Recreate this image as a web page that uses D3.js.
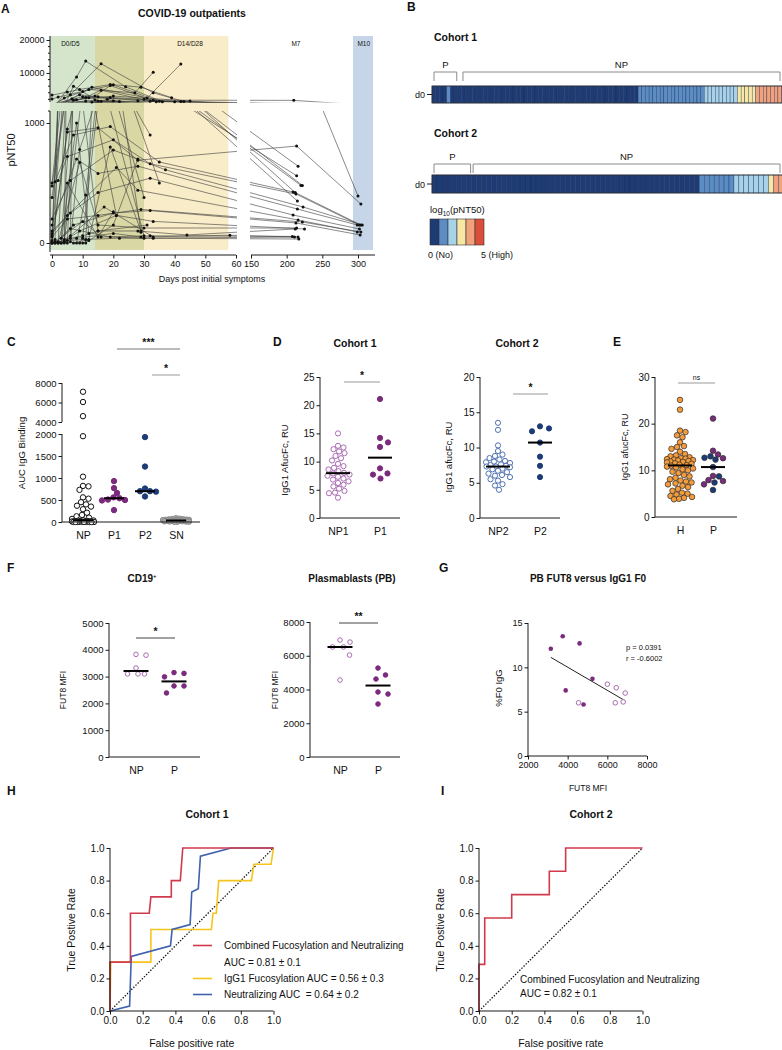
<!DOCTYPE html>
<html><head><meta charset="utf-8">
<script src="https://cdn.jsdelivr.net/npm/d3@7"></script>
<style>
body{margin:0;background:#fff}
svg text{font-family:"Liberation Sans",Arial,Helvetica,sans-serif}
</style></head><body>
<svg id="fig" width="782" height="1050"></svg>
<script>
// ======================= DATA =======================
// Panel A: pNT50 trajectories, each subject = [[day, pNT50], ...]
const aSubjects = [
  [[1,30],[8,8800],[11,13600],[24,5800],[36,1300]],
  [[0,10],[6,3400],[16,12800],[33,4000],[43,1350]],
  [[0,3300],[5,4200],[9,5000],[19,6500],[29,5700],[39,2500]],
  [[0,2100],[2,2700],[10,4400],[20,6400],[35,1400],[222,480]],
  [[0,60],[4,2400],[12,5000],[27,4000],[33,10200]],
  [[0,20],[6.5,2200],[13,5700],[31,2400],[42,12700]],
  [[0,500],[10,2800],[19,2600],[30,2000],[42,1350],[216,640]],
  [[0,475],[12,2500],[33,1750],[210,1700],[300,392]],
  [[0,380],[14,3000],[19,6200],[34,1300],[214,560]],
  [[2,0],[9,3400],[15,2800],[28,1600],[212,420],[304,150]],
  [[3,40],[11,2600],[16,4800],[32,1450],[215,350]],
  [[5,0],[8,1900],[20,3000],[45,1500]],
  [[4,10],[7,6000],[15,1500],[40,1250],[220,480]],
  [[0,0],[5,925],[15,960],[28,690],[214,808],[304,325]],
  [[1,510],[7,900],[19,970],[35,675],[209,425]],
  [[2,520],[5,720],[20,860],[32,660],[213,408],[302,150]],
  [[0,200],[6,520],[20,775],[37,610],[223,300],[306,150]],
  [[0,150],[8,700],[15,580],[28,640],[215,283],[299,150]],
  [[0,100],[6,250],[15,420],[32,540],[209,233],[302,117]],
  [[0,80],[5,230],[21,630],[28,440],[216,192],[299,92]],
  [[0,50],[5,200],[15,230],[29,280],[222,175],[304,92]],
  [[1,0],[7,150],[20,250],[32,270],[213,167],[303,67]],
  [[2,10],[9,670],[15,150],[30,125],[214,125]],
  [[3,0],[9,100],[21,230],[33,180],[225,117]],
  [[4,30],[10,60],[15,100],[28,100],[44,67],[212,117]],
  [[0,0],[8,40],[20,80],[29,50],[58,65],[211,50]],
  [[2,5],[6,120],[19,50],[30,40],[216,50]],
  [[1,10],[10,180],[16,50],[32,60],[208,55]],
  [[5,20],[11,30],[22,40],[33,40],[217,33]],
  [[0,0],[5,950],[14,1800],[30,380]],
  [[6,10],[9,780],[20,1600],[35,500]],
  [[3,0],[8,1000],[12,80]],
  [[7,0],[12,30],[19,800],[29,100]],
  [[9,0],[10,40],[16,1400],[30,60]],
  [[1,0],[4,10],[11,1500],[21,230]],
  [[6,40],[7,1800],[15,100],[31,150]],
  [[8,0],[11,400],[18,2000],[29,90]],
  [[2,0],[6,60],[17,300],[33,50]],
  [[10,0],[12,20],[20,150],[28,700]],
  [[4,0],[5,500],[15,50],[20,260]],
  [[11,0],[13,1200],[22,1350],[32,900]]
];
const aPhases = [
  {name:"D0/D5", from:-0.7, to:14, labelDay:6},
  {name:"", from:14, to:30, labelDay:22},
  {name:"D14/D28", from:30, to:57.5, labelDay:45},
  {name:"M10", from:293, to:321, labelDay:308}
];
const aExtraLabels = [{name:"M7", labelDay:213}];
const aXTicksLeft = [0,10,20,30,40,50,60];
const aXTicksRight = [150,200,250,300];
const aYTicksUpper = [10000,20000];
const aYTicksLower = [0,1000];

// Panel B: heat map bins of log10(pNT50) at d0 (0 = none ... 5 = high)
const bCohort1Bins = [
  0,0,0,0,1,0,0,0,0,0, 0,0,0,0,0,0,0,0,0,0, 0,0,0,0,0,0,0,0,0,0,
  0,0,0,0,0,0,0,0,0,0, 0,0,0,0,0,0,0,0,0,0, 0,0,0,0,0,0,1,1,1,1,
  1,1,1,1,1,1,1,1,1,1, 1,1,1,1,2,2,2,2,2,2, 2,2,2,3,3,3,3,3,4,4,
  4,4,4,4,4,5];
const bCohort2Bins = [
  0,0,0,0,0,0,0,0,0,0, 0,0,0,0,0,0,0,0,0,0, 0,0,0,0,0,0,0,0,0,0,
  0,0,0,0,0,0,0,0,0,0, 0,0,0,0,0,0,0,0,0,0, 0,0,0,0,1,1,1,1,1,1,
  1,2,2,2,2,2,2,2,3,4,4];
const bCohort1Groups = [{name:"P", from:0, to:7}, {name:"NP", from:8, to:96}];
const bCohort2Groups = [{name:"P", from:0, to:8}, {name:"NP", from:8, to:71}];
const bLegendLevels = [0,1,2,3,4,5];

// Panel C: AUC IgG binding
const cCats = ["NP","P1","P2","SN"];
const cNP = [7100,6050,4600,1950,1030,820,810,730,560,530,450,400,370,350,290,210,160,130,100,70,
             40,35,30,25,20,18,15,12,10,8,6,5,4,3,2,2,1,1,0,0,0,0];
const cP1 = [930,770,660,560,540,510,500,490,270];
const cP2 = [1930,1260,760,700,700,690,580];
const cSN = [85,75,70,65,60,55,50,48,45,42,40,38,35,33,30,28,25,22,20,18,15,12,10,8,5,3];
const cYTicksLower = [0,500,1000,1500,2000];
const cYTicksUpper = [4000,6000,8000];

// Panel D
const dCats1 = ["NP1","P1"];
const dNP1 = [15,12.8,12.5,12.2,11.8,11.5,11,10.6,10.2,9.6,9.2,8.9,8.6,8.3,8.0,7.9,7.7,7.5,7.3,7.0,6.8,6.5,6.2,5.9,5.6,5.2,4.8,4.5,4.4,3.6];
const dP1 = [21.1,14.2,13.4,12.6,8.8,7.9,7.7,7.0];
const dCats2 = ["NP2","P2"];
const dNP2 = [13.5,12.5,10.3,9.5,9.0,8.8,8.5,8.3,8.1,8.0,7.9,7.8,7.6,7.5,7.4,7.3,7.3,7.2,7.0,6.9,6.7,6.5,6.3,6.1,6.0,5.8,5.5,5.3,4.8,4.6,4.0];
const dP2 = [13.0,12.7,12.3,10.7,8.7,7.4,5.8];

// Panel E
const eCats = ["H","P"];
const eH = [25.1,23.0,18.5,18.2,17.5,17.1,16.0,15.2,15.0,14.6,14.0,13.5,13.2,13.0,12.8,12.6,12.5,12.4,12.3,12.2,12.1,12.0,11.9,11.8,11.7,11.5,11.4,11.2,11.1,11.0,
            10.8,10.6,10.4,10.2,10.0,9.7,9.4,9.0,8.7,8.4,8.1,7.8,7.6,7.4,7.2,7.0,6.7,6.4,6.0,5.6,5.2,5.0,4.8,4.5,4.3,4.1,3.9,3.8];

// Panel F
const fCats = ["NP","P"];
const fCD19NP = [3830,3800,3320,3100,3100,3100];
const fCD19P = [3150,3120,2990,2650,2650,2390];
const fPBNP = [6930,6810,6520,6520,6040,4560];
const fPBP = [5270,4860,4620,3850,3730,3140];

// Panel G: [FUT8 MFI, %F0 IgG]
const gP = [[3150,12.1],[3750,13.5],[4600,12.7],[5250,8.7],[3900,7.4],[4800,5.8]];
const gNP = [[4550,6.0],[6000,8.1],[6450,7.7],[6900,7.1],[6400,6.0],[6800,6.1]];

// Panels H, I: ROC curves [FPR, TPR]
const hCombined = [[0,0],[0,0.3],[0.125,0.3],[0.125,0.6],[0.24,0.6],[0.25,0.7],[0.375,0.7],[0.375,0.8],[0.43,0.8],[0.445,1],[1,1]];
const hFucosylation = [[0,0],[0.005,0.3],[0.25,0.3],[0.25,0.5],[0.62,0.5],[0.63,0.6],[0.65,0.6],[0.665,0.8],[0.865,0.8],[0.88,0.9],[0.985,0.9],[1,1]];
const hNeutralizing = [[0,0],[0.12,0.03],[0.13,0.335],[0.37,0.4],[0.38,0.5],[0.49,0.53],[0.5,0.73],[0.54,0.75],[0.553,0.95],[0.74,1],[1,1]];
const iCombined = [[0,0],[0,0.286],[0.035,0.286],[0.035,0.571],[0.2,0.571],[0.2,0.714],[0.43,0.714],[0.43,0.857],[0.53,0.857],[0.53,1],[1,1]];
const rocTicks = [0,0.2,0.4,0.6,0.8,1.0];

// ======================= DRAWING =======================
const svg = d3.select("#fig");
const INK = "#1a1a1a";
const C_PURPLE = "#7b2a7d", C_PURPLE_OPEN = "#a96bb2", C_NAVY = "#1c3c78", C_NAVY_OPEN = "#4f72b3",
      C_ORANGE = "#f49b3c", C_GRAY = "#a8a8a8";
const hmColors = ["#1e3b73","#5b8cc3","#a8d2e7","#f8e7a3","#f1a27c","#db4f3a"];

function T(x, y, s, o = {}) {
  const t = svg.append("text").attr("x", x).attr("y", y).text(s)
    .attr("font-size", o.size || 9).attr("fill", o.fill || "#111")
    .attr("text-anchor", o.anchor || "start");
  if (o.bold) t.attr("font-weight", "bold");
  if (o.rot) t.attr("transform", `rotate(${o.rot},${x},${y})`);
  if (o.pre) t.style("white-space", "pre");
  return t;
}
function yAxis(x, scale, ticks, y0, y1, o = {}) {
  const g = svg.append("g");
  g.append("line").attr("x1", x).attr("x2", x).attr("y1", y0).attr("y2", y1).attr("stroke", INK).attr("stroke-width", 1);
  const ax = d3.axisLeft(scale).tickValues(ticks).tickFormat(o.fmt || d3.format("d")).tickSize(3.5).tickPadding(2);
  const gg = g.append("g").attr("transform", `translate(${x},0)`).call(ax);
  gg.select(".domain").remove();
  gg.selectAll("line").attr("stroke", INK);
  gg.selectAll("text").attr("font-size", o.size || 9).attr("fill", "#111").attr("font-family", null);
  (o.minor || []).forEach(v => g.append("line").attr("x1", x - 2).attr("x2", x).attr("y1", scale(v)).attr("y2", scale(v)).attr("stroke", INK));
  return g;
}
function xAxis(y, scale, ticks, x0, x1, o = {}) {
  const g = svg.append("g");
  g.append("line").attr("x1", x0).attr("x2", x1).attr("y1", y).attr("y2", y).attr("stroke", INK).attr("stroke-width", 1);
  const ax = d3.axisBottom(scale).tickSize(o.tickSize == null ? 3.5 : o.tickSize).tickPadding(o.pad || 2);
  if (ticks) ax.tickValues(ticks);
  ax.tickFormat(o.fmt || (d => d));
  const gg = g.append("g").attr("transform", `translate(0,${y})`).call(ax);
  gg.select(".domain").remove();
  gg.selectAll("line").attr("stroke", INK);
  gg.selectAll("text").attr("font-size", o.size || 9).attr("fill", "#111").attr("font-family", null);
  return g;
}
// deterministic beeswarm placement
function swarm(vals, cx, ys, sep, maxW) {
  const out = vals.map((v, i) => ({v, i, y: ys(v)}));
  const order = out.slice().sort((a, b) => b.v - a.v);
  const cands = [0];
  for (let d = 0.5; d <= maxW; d += 0.5) cands.push(d, -d);
  const placed = [];
  order.forEach(p => {
    let best = 0, bestD = -1;
    for (const c of cands) {
      let md = Infinity;
      for (const q of placed) { const dd = Math.hypot(c - q.dx, p.y - q.y); if (dd < md) md = dd; }
      if (md >= sep) { best = c; bestD = md; break; }
      if (md > bestD) { bestD = md; best = c; }
    }
    p.dx = best; placed.push(p);
  });
  out.forEach(p => p.x = cx + p.dx);
  return out;
}
function dots(pts, r, fill, stroke, sw) {
  svg.append("g").selectAll("circle").data(pts).join("circle")
    .attr("cx", d => d.x).attr("cy", d => d.y).attr("r", r)
    .attr("fill", fill).attr("stroke", stroke).attr("stroke-width", sw == null ? 1 : sw);
}
function medianLine(vals, cx, ys, hw) {
  const m = d3.median(vals);
  svg.append("line").attr("x1", cx - hw).attr("x2", cx + hw).attr("y1", ys(m)).attr("y2", ys(m))
    .attr("stroke", "#000").attr("stroke-width", 2);
}
function sigBar(x1, x2, y, label, color, size) {
  svg.append("line").attr("x1", x1).attr("x2", x2).attr("y1", y).attr("y2", y).attr("stroke", color || "#999").attr("stroke-width", 1);
  T((x1 + x2) / 2, y - 3, label, {anchor: "middle", size: size || 10.5, bold: label !== "ns"});
}

// ---------- Panel letters ----------
[["A",1,13],["B",407,11],["C",7,346],["D",273,346],["E",613,346],["F",7,572],["G",439,572],["H",7,795],["I",441,795]]
  .forEach(([s, x, y]) => T(x, y, s, {size: 12, bold: true}));

// ---------- PANEL A ----------
{
  const xA = d3.scaleLinear().domain([0, 60, 150, 300]).range([52, 236, 251, 358]);
  const yLo = d3.scaleLinear().domain([0, 1100]).range([243, 111]);   // lower segment (extrapolates)
  const yUp = d3.scaleLinear().domain([1200, 20000]).range([102, 40]); // upper segment (extrapolates)
  const phaseColors = ["#d5e5cb", "#d9d7a4", "#f9ecc8", "#c6d5e7"];
  svg.append("g").selectAll("rect").data(aPhases).join("rect")
    .attr("x", d => xA(d.from)).attr("width", d => xA(d.to) - xA(d.from))
    .attr("y", 36).attr("height", 214).attr("fill", (d, i) => phaseColors[i]);
  aPhases.concat(aExtraLabels).filter(d => d.name).forEach(d => T(xA(d.labelDay), 46, d.name, {anchor: "middle", size: 6.5}));

  const defs = svg.append("defs");
  const cpLo = defs.append("clipPath").attr("id", "clipALo");
  [[49, 111, 188, 140], [250, 111, 125, 140]]
    .forEach(r => cpLo.append("rect").attr("x", r[0]).attr("y", r[1]).attr("width", r[2]).attr("height", r[3]));
  const cpUp = defs.append("clipPath").attr("id", "clipAUp");
  [[49, 36, 188, 66.5], [250, 36, 125, 66.5]]
    .forEach(r => cpUp.append("rect").attr("x", r[0]).attr("y", r[1]).attr("width", r[2]).attr("height", r[3]));

  [[yLo, "url(#clipALo)"], [yUp, "url(#clipAUp)"]].forEach(([ys, clip]) => {
    const line = d3.line().x(d => xA(d[0])).y(d => ys(d[1]));
    svg.append("g").attr("clip-path", clip).selectAll("path").data(aSubjects).join("path").attr("d", line)
      .attr("fill", "none").attr("stroke", "#3a3a3a").attr("stroke-width", 0.6);
  });
  svg.append("g").selectAll("circle").data(aSubjects.flat()).join("circle")
    .attr("cx", d => xA(d[0])).attr("cy", d => d[1] <= 1100 ? yLo(d[1]) : yUp(d[1])).attr("r", 1.5).attr("fill", "#111");

  yAxis(50, yUp, aYTicksUpper, 36, 102, {size: 9, minor: [2000,4000,6000,8000,12000,14000,16000,18000]});
  yAxis(50, yLo, aYTicksLower, 111, 252, {size: 9, minor: [1100]});
  xAxis(255, xA, aXTicksLeft, 50, 236, {size: 9});
  xAxis(255, xA, aXTicksRight, 251, 375, {size: 9});
  T(192, 17, "COVID-19 outpatients", {anchor: "middle", size: 10.5, bold: true});
  T(15, 150, "pNT50", {anchor: "middle", size: 11, rot: -90});
  T(212, 282, "Days post initial symptoms", {anchor: "middle", size: 9});
}

// ---------- PANEL B ----------
function heatRow(bins, groups, cellW, yTop, h, title, titleY, brY) {
  const x = d3.scaleLinear().domain([0, bins.length]).range([432, 432 + bins.length * cellW]);
  T(434, titleY, title, {size: 10.5, bold: true});
  const g = svg.append("g");
  g.selectAll("rect").data(bins).join("rect")
    .attr("x", (d, i) => x(i)).attr("width", cellW).attr("y", yTop).attr("height", h)
    .attr("fill", d => hmColors[d]).attr("stroke", "#142a55").attr("stroke-width", 0.35);
  g.append("rect").attr("x", 432).attr("y", yTop).attr("width", x(bins.length) - 432).attr("height", h)
    .attr("fill", "none").attr("stroke", "#333").attr("stroke-width", 0.8);
  groups.forEach((gr, k) => {
    const x1 = x(gr.from) + (k === 0 ? 2 : 1.5), x2 = Math.min(x(gr.to) - 1, 780);
    svg.append("path").attr("d", `M${x1},${brY + 9}V${brY}H${x2}V${brY + 9}`)
      .attr("fill", "none").attr("stroke", "#8a8a8a").attr("stroke-width", 1);
    T((x1 + x2) / 2, brY - 4, gr.name, {anchor: "middle", size: 9.5});
  });
  T(425, yTop + h / 2 + 3.5, "d0", {anchor: "end", size: 9});
  svg.append("line").attr("x1", 427).attr("x2", 432).attr("y1", yTop + h / 2).attr("y2", yTop + h / 2).attr("stroke", INK);
}
heatRow(bCohort1Bins, bCohort1Groups, 3.68, 86, 17, "Cohort 1", 41, 72);
heatRow(bCohort2Bins, bCohort2Groups, 4.95, 175, 18, "Cohort 2", 137, 164);
{
  const t = T(430, 213, "log", {size: 9.5});
  t.append("tspan").text("10").attr("font-size", 6.5).attr("dy", 2.5);
  t.append("tspan").text("(pNT50)").attr("dy", -2.5);
  const lx = d3.scaleBand().domain(bLegendLevels).range([430, 484]);
  svg.append("g").selectAll("rect").data(bLegendLevels).join("rect")
    .attr("x", d => lx(d)).attr("width", lx.bandwidth()).attr("y", 219).attr("height", 26)
    .attr("fill", d => hmColors[d]).attr("stroke", "#333").attr("stroke-width", 0.6);
  T(428, 258, "0 (No)", {size: 9});
  T(481, 258, "5 (High)", {size: 9});
}

// ---------- PANEL C ----------
{
  const yC = d3.scaleLinear().domain([0, 2000, 4000, 8000]).range([522, 434, 422, 383]);
  const xC = d3.scalePoint().domain(cCats).range([83, 176]);
  const groups = [
    {vals: cNP, cat: "NP", fill: "#fff", stroke: "#111", sep: 5.2, w: 11},
    {vals: cP1, cat: "P1", fill: C_PURPLE, stroke: C_PURPLE, sep: 5.6, w: 12},
    {vals: cP2, cat: "P2", fill: C_NAVY, stroke: C_NAVY, sep: 5.6, w: 12},
    {vals: cSN, cat: "SN", fill: C_GRAY, stroke: "#8c8c8c", sep: 3.2, w: 13}
  ];
  groups.forEach(g => {
    const pts = swarm(g.vals, xC(g.cat), yC, g.sep, g.w);
    dots(pts, 2.7, g.fill, g.stroke, 1);
  });
  groups.forEach(g => medianLine(g.vals, xC(g.cat), yC, 10));
  yAxis(62, yC, cYTicksLower, 434, 522, {size: 9.5});
  yAxis(62, yC, cYTicksUpper, 383, 422, {size: 9.5});
  xAxis(522, xC, null, 62, 200, {size: 10.5, tickSize: 0, pad: 10});
  T(25, 453, "AUC IgG Binding", {anchor: "middle", size: 9.5, rot: -90});
  sigBar(117, 180, 349, "***", "#777");
  sigBar(152, 180, 375, "*", "#999");
}

// ---------- PANEL D ----------
function catPanel(o) {
  const ys = d3.scaleLinear().domain([0, o.max]).range([o.y0, o.y1]);
  const xs = d3.scalePoint().domain(o.cats).range(o.xr);
  o.groups.forEach(g => {
    const pts = swarm(g.vals, xs(g.cat), ys, g.sep, g.w);
    pts.forEach(p => p.col = g.colors ? g.colors[p.i] : null);
    svg.append("g").selectAll("circle").data(pts).join("circle")
      .attr("cx", d => d.x).attr("cy", d => d.y).attr("r", o.r)
      .attr("fill", d => d.col || g.fill).attr("stroke", g.stroke).attr("stroke-width", g.sw || 1);
  });
  o.groups.forEach(g => medianLine(g.vals, xs(g.cat), ys, o.hw));
  yAxis(o.ax, ys, o.ticks, o.y1, o.y0, {size: o.tickSize || 10});
  xAxis(o.y0, xs, null, o.ax, o.axEnd, {size: 10.5, tickSize: 0, pad: 10});
  return {xs, ys};
}
catPanel({cats: dCats1, max: 25, y0: 518, y1: 377, xr: [338, 380], ax: 320, axEnd: 400, r: 2.6, hw: 12,
  ticks: [0,5,10,15,20,25],
  groups: [{vals: dNP1, cat: "NP1", fill: "#fff", stroke: C_PURPLE_OPEN, sep: 5.6, w: 12},
           {vals: dP1, cat: "P1", fill: C_PURPLE, stroke: C_PURPLE, sep: 9, w: 12}]});
T(355, 347, "Cohort 1", {anchor: "middle", size: 10.5, bold: true});
T(288, 460, "IgG1 AfucFc, RU", {anchor: "middle", size: 9.5, rot: -90});
sigBar(344, 380, 382, "*", "#999");

catPanel({cats: dCats2, max: 20, y0: 518, y1: 377, xr: [498, 540], ax: 480, axEnd: 560, r: 2.6, hw: 12,
  ticks: [0,5,10,15,20],
  groups: [{vals: dNP2, cat: "NP2", fill: "#fff", stroke: C_NAVY_OPEN, sep: 5.6, w: 12},
           {vals: dP2, cat: "P2", fill: C_NAVY, stroke: C_NAVY, sep: 9, w: 12}]});
T(517, 347, "Cohort 2", {anchor: "middle", size: 10.5, bold: true});
T(452, 457, "IgG1 afucFc, RU", {anchor: "middle", size: 9.5, rot: -90});
sigBar(513, 548, 394, "*", "#999");

// ---------- PANEL E ----------
{
  const eP = dP1.concat(dP2);
  const ePColors = dP1.map(() => C_PURPLE).concat(dP2.map(() => C_NAVY));
  catPanel({cats: eCats, max: 30, y0: 517, y1: 377, xr: [680, 713], ax: 655, axEnd: 737, r: 2.8, hw: 12,
    ticks: [0,10,20,30],
    groups: [{vals: eH, cat: "H", fill: C_ORANGE, stroke: "#2b2b2b", sep: 5.4, w: 13, sw: 0.7},
             {vals: eP, cat: "P", fill: C_PURPLE, colors: ePColors, stroke: "#2b2b2b", sep: 6, w: 13, sw: 0.7}]});
  T(628, 447, "IgG1 afucFc, RU", {anchor: "middle", size: 9, rot: -90});
  sigBar(678, 715, 383, "ns", "#999", 7);
}

// ---------- PANEL F ----------
catPanel({cats: fCats, max: 5000, y0: 757, y1: 623, xr: [136, 174], ax: 109, axEnd: 200, r: 2.3, hw: 12.5,
  ticks: [0,1000,2000,3000,4000,5000], tickSize: 9.5,
  groups: [{vals: fCD19NP, cat: "NP", fill: "#fff", stroke: C_PURPLE_OPEN, sep: 10, w: 12},
           {vals: fCD19P, cat: "P", fill: C_PURPLE, stroke: C_PURPLE, sep: 10, w: 12}]});
{
  const t = T(142, 582, "CD19", {anchor: "middle", size: 10, bold: true});
  t.append("tspan").text("+").attr("font-size", 6).attr("dy", -4);
}
T(66, 690, "FUT8 MFI", {anchor: "middle", size: 8.5, rot: -90});
sigBar(136, 175, 638, "*", "#444");

catPanel({cats: fCats, max: 8000, y0: 757, y1: 622, xr: [340, 378], ax: 310, axEnd: 400, r: 2.3, hw: 12.5,
  ticks: [0,2000,4000,6000,8000], tickSize: 9.5,
  groups: [{vals: fPBNP, cat: "NP", fill: "#fff", stroke: C_PURPLE_OPEN, sep: 10, w: 12},
           {vals: fPBP, cat: "P", fill: C_PURPLE, stroke: C_PURPLE, sep: 10, w: 12}]});
T(352, 582, "Plasmablasts (PB)", {anchor: "middle", size: 10, bold: true});
T(278, 690, "FUT8 MFI", {anchor: "middle", size: 8.5, rot: -90});
sigBar(339, 378, 623, "**", "#444");

// ---------- PANEL G ----------
{
  const xG = d3.scaleLinear().domain([2000, 8000]).range([528, 647]);
  const yG = d3.scaleLinear().domain([0, 15]).range([756, 623]);
  const all = gP.concat(gNP);
  const mx = d3.mean(all, d => d[0]), my = d3.mean(all, d => d[1]);
  const slope = d3.sum(all, d => (d[0] - mx) * (d[1] - my)) / d3.sum(all, d => (d[0] - mx) ** 2);
  const ext = d3.extent(all, d => d[0]);
  svg.append("line").attr("x1", xG(ext[0])).attr("x2", xG(ext[1]))
    .attr("y1", yG(my + slope * (ext[0] - mx))).attr("y2", yG(my + slope * (ext[1] - mx)))
    .attr("stroke", "#222").attr("stroke-width", 1);
  svg.append("g").selectAll("circle").data(gP).join("circle")
    .attr("cx", d => xG(d[0])).attr("cy", d => yG(d[1])).attr("r", 2.3).attr("fill", C_PURPLE);
  svg.append("g").selectAll("circle").data(gNP).join("circle")
    .attr("cx", d => xG(d[0])).attr("cy", d => yG(d[1])).attr("r", 2.3).attr("fill", "#fff")
    .attr("stroke", C_PURPLE_OPEN).attr("stroke-width", 1);
  yAxis(528, yG, [0,5,10,15], 623, 756, {size: 9});
  xAxis(756, xG, [2000,4000,6000,8000], 527, 647, {size: 9});
  T(588, 582, "PB FUT8 versus IgG1 F0", {anchor: "middle", size: 10, bold: true});
  T(502, 688, "%F0 IgG", {anchor: "middle", size: 9.5, rot: -90});
  T(588, 791, "FUT8 MFI", {anchor: "middle", size: 8.5});
  T(626, 650, "p = 0.0391", {size: 7.5});
  T(626, 661, "r = -0.6002", {size: 7.5});
}

// ---------- PANELS H, I ----------
function rocPanel(x0, series, title, titleX) {
  const xs = d3.scaleLinear().domain([0, 1]).range([x0, x0 + 163.5]);
  const ys = d3.scaleLinear().domain([0, 1]).range([1011, 848]);
  svg.append("line").attr("x1", xs(0)).attr("y1", ys(0)).attr("x2", xs(1)).attr("y2", ys(1))
    .attr("stroke", "#111").attr("stroke-width", 1.3).attr("stroke-dasharray", "1.4,1.6");
  const line = d3.line().x(d => xs(d[0])).y(d => ys(d[1]));
  series.forEach(s => svg.append("path").attr("d", line(s.data)).attr("fill", "none")
    .attr("stroke", s.color).attr("stroke-width", 1.6));
  yAxis(x0, ys, rocTicks, 848, 1011, {size: 10, fmt: d3.format(".1f")});
  xAxis(1011, xs, rocTicks, x0, xs(1), {size: 10, fmt: d3.format(".1f")});
  T(titleX, 818, title, {anchor: "middle", size: 10.5, bold: true});
  T(x0 - 35, 930, "True Postive Rate", {anchor: "middle", size: 10.5, rot: -90});
  T(xs(0.5), 1047, "False positive rate", {anchor: "middle", size: 10.5});
  return xs;
}
const C_RED = "#d13a4c", C_YEL = "#f5c51d", C_BLUE = "#3e62ad";
rocPanel(110, [{data: hFucosylation, color: C_YEL}, {data: hNeutralizing, color: C_BLUE}, {data: hCombined, color: C_RED}], "Cohort 1", 207);
[[949, C_RED, "Combined Fucosylation and Neutralizing"], [966, null, "AUC = 0.81 ± 0.1"],
 [982, C_YEL, "IgG1 Fucosylation AUC = 0.56 ± 0.3"], [998, C_BLUE, "Neutralizing AUC  = 0.64 ± 0.2"]]
  .forEach(([y, col, s]) => {
    if (col) svg.append("line").attr("x1", 193).attr("x2", 212).attr("y1", y - 3.5).attr("y2", y - 3.5).attr("stroke", col).attr("stroke-width", 1.6);
    T(224, y, s, {size: 10, pre: true});
  });
rocPanel(479, [{data: iCombined, color: C_RED}], "Cohort 2", 591);
T(520, 983, "Combined Fucosylation and Neutralizing", {size: 10});
T(520, 997, "AUC = 0.82 ± 0.1", {size: 10});
</script>
</body></html>
